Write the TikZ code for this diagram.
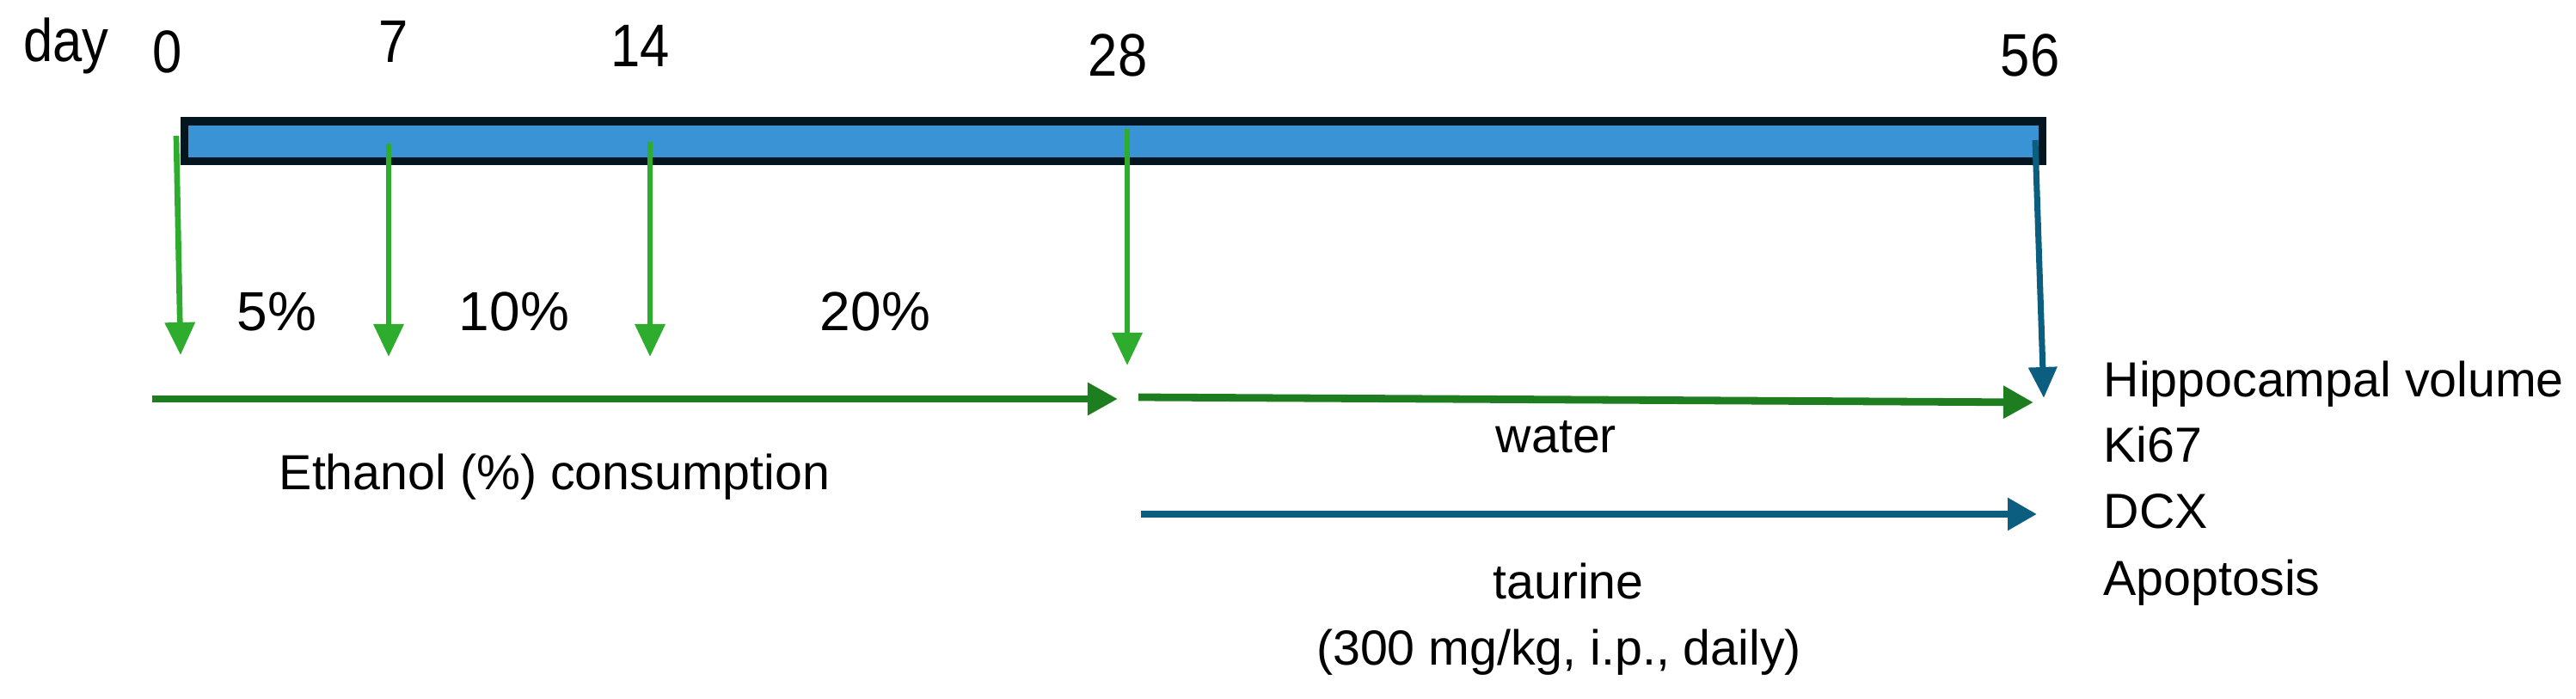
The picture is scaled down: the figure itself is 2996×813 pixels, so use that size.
\documentclass[tikz,border=0pt]{standalone}
\usepackage{fontspec}
\usepackage{graphicx}
\setmainfont{Liberation Sans}
\usetikzlibrary{arrows.meta}
\definecolor{barblue}{RGB}{58,147,213}
\definecolor{bardark}{RGB}{3,22,31}
\definecolor{lgreen}{RGB}{46,172,46}
\definecolor{dgreen}{RGB}{30,125,30}
\definecolor{tealb}{RGB}{12,94,128}
\newcommand\cnd[1]{\scalebox{0.88}[1]{#1}}
\begin{document}
\begin{tikzpicture}[x=0.01cm,y=-0.01cm,
  txt/.style={inner sep=0pt, anchor=base, font=\fontsize{16.3}{19}\selectfont},
  listtxt/.style={inner sep=0pt, anchor=base west, font=\fontsize{16.3}{19}\selectfont},
  pct/.style={inner sep=0pt, anchor=base, font=\fontsize{18.2}{21}\selectfont},
  daynum/.style={inner sep=0pt, anchor=base, font=\fontsize{19.9}{23}\selectfont},
  vgreen/.style={draw=lgreen, line width=1.9pt, -{Triangle[length=0.38cm,width=0.34cm]}},
  vteal/.style={draw=tealb, line width=2pt, -{Triangle[length=0.36cm,width=0.32cm]}},
  hgreen/.style={draw=dgreen, line width=2.5pt, -{Triangle[length=0.35cm,width=0.36cm]}},
  hteal/.style={draw=tealb, line width=2.5pt, -{Triangle[length=0.34cm,width=0.36cm]}}]
\useasboundingbox (0,0) rectangle (2996,813);

% timeline bar
\node[draw=bardark, line width=2.6pt, fill=barblue, minimum width=21.6cm, minimum height=0.46cm, inner sep=0pt, anchor=north west] (bar) at (209.5,136.5) {};

% day labels
\node[daynum] (day) at (77,72) {\cnd{day}};
\node[daynum] (d0) at (195,85) {\cnd{0}};
\node[daynum] (d7) at (458,73) {\cnd{7}};
\node[daynum] (d14) at (745,78) {\cnd{14}};
\node[daynum] (d28) at (1300,89) {\cnd{28}};
\node[daynum] (d56) at (2361,89) {\cnd{56}};

% percentages
\node[pct] (p5) at (322,385) {5\%};
\node[pct] (p10) at (598,385) {10\%};
\node[pct] (p20) at (1018,385) {20\%};

% labels
\node[txt] (eth) at (645,570) {Ethanol (\%) consumption};
\node[txt] (wat) at (1810,527) {water};
\node[txt] (tau) at (1824,697) {taurine};
\node[txt] (dose) at (1813,774) {(300 mg/kg, i.p., daily)};

% outcome list
\node[listtxt] (hip) at (2446,462) {Hippocampal volume};
\node[listtxt] (ki) at (2446,538) {Ki67};
\node[listtxt] (dcx) at (2446,615) {DCX};
\node[listtxt] (apo) at (2446,693) {Apoptosis};

% arrow end points
\coordinate (s0) at (205,158);  \coordinate (e0) at (210,413);
\coordinate (s7) at (452,167);  \coordinate (e7) at (452,415);
\coordinate (s14) at (756,165); \coordinate (e14) at (756,415);
\coordinate (s28) at (1311,150); \coordinate (e28) at (1311,425);
\coordinate (s56) at (2367,163); \coordinate (e56) at (2377,463);
\coordinate (eths) at (177,464); \coordinate (ethe) at (1300,464);
\coordinate (wats) at (1324,462); \coordinate (wate) at (2365,468);
\coordinate (taus) at (1327,598); \coordinate (taue) at (2369,598);

\draw[vgreen] (s0) -- (e0);
\draw[vgreen] (s7) -- (e7);
\draw[vgreen] (s14) -- (e14);
\draw[vgreen] (s28) -- (e28);
\draw[vteal] (s56) -- (e56);
\draw[hgreen] (eths) -- (ethe);
\draw[hgreen] (wats) -- (wate);
\draw[hteal] (taus) -- (taue);
\end{tikzpicture}
\end{document}
